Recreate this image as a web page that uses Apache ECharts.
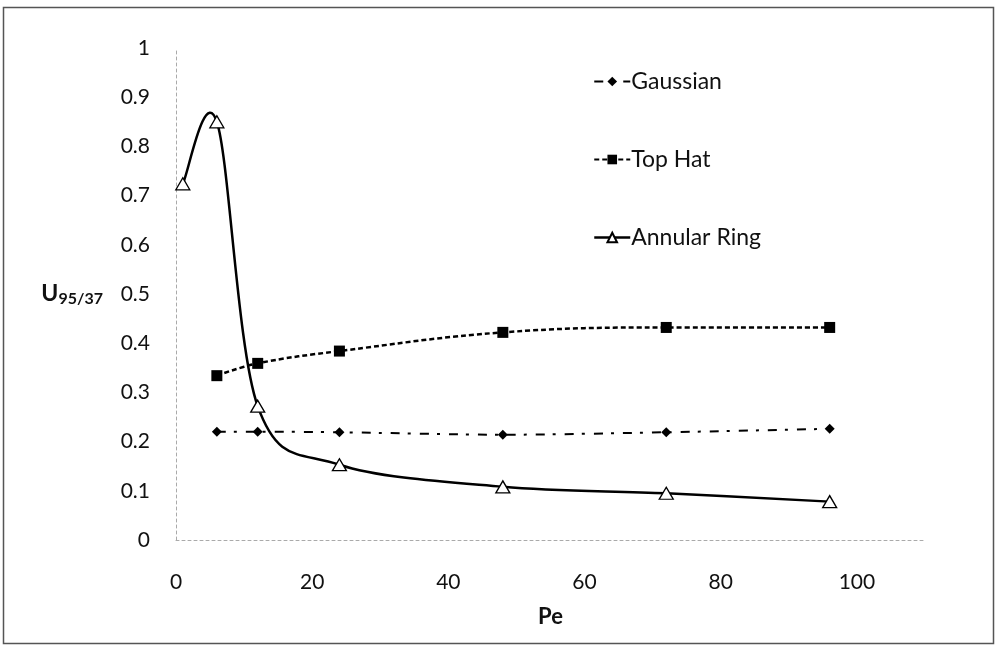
<!DOCTYPE html>
<html>
<head>
<meta charset="utf-8">
<script src="https://cdn.jsdelivr.net/npm/echarts@6/dist/echarts.min.js"></script>
<style>
html,body{margin:0;padding:0;background:#fff;}
#chart{width:996px;height:646px;}
</style>
</head>
<body>
<div id="chart"></div>
<script>
const pe = [6, 12, 24, 48, 72, 96];
const peRing = [1, 6, 12, 24, 48, 72, 96];
const gaussian = [0.220, 0.220, 0.219, 0.214, 0.219, 0.226];
const topHat = [0.334, 0.359, 0.384, 0.422, 0.432, 0.432];
const annularRing = [0.724, 0.850, 0.272, 0.153, 0.108, 0.095, 0.078];
const xTicks = [0, 20, 40, 60, 80, 100];

const font = 'Lato';
const chart = echarts.init(document.getElementById('chart'));

function pairs(xs, ys) { return xs.map((x, i) => [x, ys[i]]); }

// segments for an Excel-style smoothed curve: [xPrev,yPrev,x1,y1,x2,y2,xNext,yNext]
function segments(xs, ys) {
  const out = [];
  const n = xs.length;
  for (let i = 0; i < n - 1; i++) {
    const a = Math.max(i - 1, 0), d = Math.min(i + 2, n - 1);
    out.push([xs[a], ys[a], xs[i], ys[i], xs[i + 1], ys[i + 1], xs[d], ys[d]]);
  }
  return out;
}

chart.setOption({
  animation: false,
  backgroundColor: '#fff',
  textStyle: { fontFamily: font },
  graphic: [{
    type: 'rect',
    shape: { x: 3.5, y: 7.5, width: 990, height: 636 },
    style: { fill: 'none', stroke: '#555', lineWidth: 1.5 },
    silent: true
  }],
  grid: { left: 176, right: 71, top: 48, bottom: 106 },
  legend: {
    orient: 'vertical',
    left: 588,
    top: 65,
    itemWidth: 36,
    itemHeight: 12,
    itemGap: 55,
    textStyle: { fontFamily: font, fontSize: 23, color: '#111', padding: [0, 0, 0, -4] },
    data: ['Gaussian', 'Top Hat', { name: 'Annular Ring', lineStyle: { opacity: 1, width: 2.5, color: '#000' } }]
  },
  xAxis: {
    type: 'value',
    min: 0, max: 110, interval: 20,
    name: 'Pe',
    nameLocation: 'middle',
    nameGap: 66,
    nameTextStyle: { fontFamily: font, fontSize: 22, fontWeight: 'bold', color: '#111' },
    axisLine: { show: true, lineStyle: { color: '#aaa', width: 1, type: [3, 3] } },
    axisTick: { show: false },
    splitLine: { show: false },
    axisLabel: {
      fontFamily: font, fontSize: 21, color: '#111', margin: 32,
      showMaxLabel: false,
      formatter: v => xTicks.includes(v) ? String(v) : ''
    }
  },
  yAxis: {
    type: 'value',
    min: 0, max: 1, interval: 0.1,
    name: '{u|U}{s|95/37}',
    nameLocation: 'middle',
    nameRotate: 0,
    nameGap: 73,
    nameTextStyle: {
      rich: {
        u: { fontFamily: font, fontSize: 23, fontWeight: 'bold', color: '#111' },
        s: { fontFamily: font, fontSize: 16, fontWeight: 'bold', color: '#111', verticalAlign: 'bottom', padding: [10, 0, 0, 0] }
      }
    },
    axisLine: { show: true, lineStyle: { color: '#aaa', width: 1, type: [3, 3] } },
    axisTick: { show: false },
    splitLine: { show: false },
    axisLabel: { fontFamily: font, fontSize: 21, color: '#111', margin: 26 }
  },
  series: [
    {
      name: 'Gaussian',
      type: 'line',
      data: pairs(pe, gaussian),
      smooth: 0.3,
      symbol: 'diamond',
      symbolSize: 10,
      itemStyle: { color: '#000' },
      lineStyle: { color: '#000', width: 2, type: [9, 8, 3, 9] }
    },
    {
      name: 'Top Hat',
      type: 'line',
      data: pairs(pe, topHat),
      smooth: 0.4,
      symbol: 'rect',
      symbolSize: 11,
      itemStyle: { color: '#000' },
      lineStyle: { color: '#000', width: 2.5, type: [5, 3] }
    },
    {
      name: 'Annular Ring curve',
      type: 'custom',
      data: segments(peRing, annularRing),
      encode: { x: [0, 2, 4, 6], y: [1, 3, 5, 7] },
      silent: true,
      z: 2,
      renderItem: function (params, api) {
        const p0 = api.coord([api.value(0), api.value(1)]);
        const p1 = api.coord([api.value(2), api.value(3)]);
        const p2 = api.coord([api.value(4), api.value(5)]);
        const p3 = api.coord([api.value(6), api.value(7)]);
        return {
          type: 'bezierCurve',
          shape: {
            x1: p1[0], y1: p1[1], x2: p2[0], y2: p2[1],
            cpx1: p1[0] + (p2[0] - p0[0]) / 6, cpy1: p1[1] + (p2[1] - p0[1]) / 6,
            cpx2: p2[0] - (p3[0] - p1[0]) / 6, cpy2: p2[1] - (p3[1] - p1[1]) / 6
          },
          style: { fill: 'none', stroke: '#000', lineWidth: 2.5 }
        };
      }
    },
    {
      name: 'Annular Ring',
      type: 'line',
      data: pairs(peRing, annularRing),
      symbol: 'triangle',
      symbolSize: [14, 12],
      itemStyle: { color: '#fff', borderColor: '#000', borderWidth: 1.3 },
      lineStyle: { color: '#000', width: 2.5, opacity: 0 },
      z: 3
    }
  ]
});
</script>
</body>
</html>
